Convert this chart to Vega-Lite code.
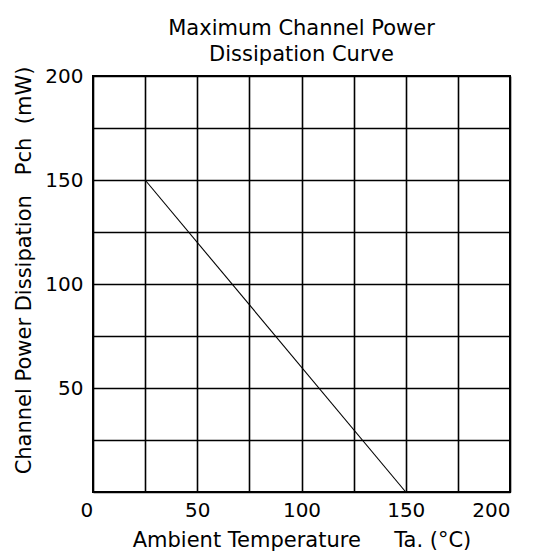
{
  "$schema": "https://vega.github.io/schema/vega-lite/v6.json",
  "autosize": "none",
  "width": 417,
  "height": 416,
  "padding": {"left": 93, "top": 76, "right": 24, "bottom": 62},
  "background": "white",
  "title": {
    "text": ["Maximum Channel Power", "Dissipation Curve"],
    "font": "DejaVu Sans",
    "fontSize": 21,
    "fontWeight": "normal",
    "lineHeight": 26,
    "color": "black",
    "anchor": "middle",
    "offset": 1
  },
  "config": {
    "view": {"stroke": "black", "strokeWidth": 2},
    "axis": {
      "grid": true,
      "gridColor": "black",
      "gridWidth": 1.6,
      "gridOpacity": 1,
      "domain": false,
      "ticks": false,
      "tickSize": 0,
      "labelFont": "DejaVu Sans",
      "labelFontSize": 20,
      "labelColor": "black",
      "titleFont": "DejaVu Sans",
      "titleFontSize": 21,
      "titleFontWeight": "normal",
      "titleColor": "black"
    }
  },
  "data": {
    "values": [
      {"ta": 25, "pch": 150},
      {"ta": 150, "pch": 0}
    ]
  },
  "mark": {"type": "line", "color": "black", "strokeWidth": 1.1},
  "encoding": {
    "x": {
      "field": "ta",
      "type": "quantitative",
      "scale": {"domain": [0, 200], "nice": false},
      "axis": {
        "title": "Ambient Temperature\u00a0\u00a0\u00a0\u00a0 Ta. (°C)",
        "values": [0, 25, 50, 75, 100, 125, 150, 175, 200],
        "labelExpr": "datum.value % 50 == 0 ? datum.label : ''",
        "labelPadding": 8,
        "labelBaseline": "top",
        "labelOffset": {"condition": {"test": "datum.value == 0", "value": -13}, "value": 0},
        "titleY": 37,
        "titleBaseline": "top"
      }
    },
    "y": {
      "field": "pch",
      "type": "quantitative",
      "scale": {"domain": [0, 200], "nice": false},
      "axis": {
        "title": "Channel Power Dissipation\u00a0\u00a0\u00a0Pch\u00a0\u00a0(mW)",
        "values": [0, 25, 50, 75, 100, 125, 150, 175, 200],
        "labelExpr": "datum.value % 50 == 0 && datum.value > 0 ? datum.label : ''",
        "labelPadding": 10,
        "titleX": -59,
        "titleY": 194,
        "titleBaseline": "bottom",
        "titleAngle": -90
      }
    }
  }
}
